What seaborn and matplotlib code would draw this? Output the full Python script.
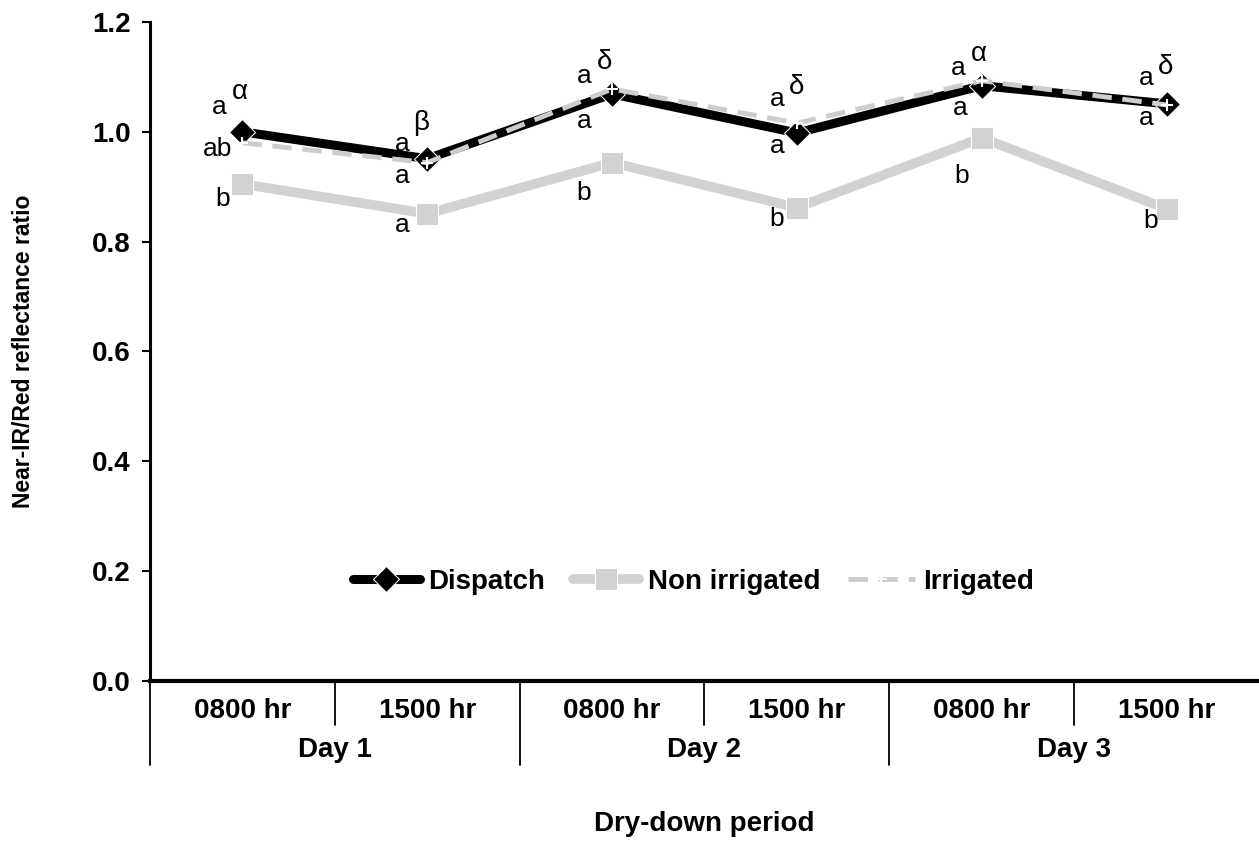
import matplotlib
matplotlib.use("Agg")
import matplotlib.pyplot as plt
import numpy as np
import pandas as pd
import seaborn as sns

# values
hours = ['0800 hr', '1500 hr', '0800 hr', '1500 hr', '0800 hr', '1500 hr']
days = ['Day 1', 'Day 2', 'Day 3']
dispatch = [1.00, 0.951, 1.069, 0.998, 1.084, 1.051]
non_irrigated = [0.905, 0.851, 0.944, 0.862, 0.989, 0.860]
irrigated = [0.980, 0.944, 1.078, 1.016, 1.093, 1.049]

# significance letters: (series, point, text, dx px, dy px)
letters = [
    ('Dispatch', 0, 'a', -23, 25), ('Dispatch', 0, 'α', -3, 40),
    ('Irrigated', 0, 'ab', -25, -6), ('Non irrigated', 0, 'b', -20, -15),
    ('Dispatch', 1, 'a', -25, 15), ('Dispatch', 1, 'β', -6, 36),
    ('Irrigated', 1, 'a', -25, -13), ('Non irrigated', 1, 'a', -25, -11),
    ('Dispatch', 2, 'a', -28, 18), ('Dispatch', 2, 'δ', -8, 32),
    ('Dispatch', 2, 'a', -28, -27), ('Non irrigated', 2, 'b', -28, -30),
    ('Irrigated', 3, 'a', -20, 24), ('Irrigated', 3, 'δ', 0, 36),
    ('Dispatch', 3, 'a', -20, -13), ('Non irrigated', 3, 'b', -20, -11),
    ('Dispatch', 4, 'a', -23, 18), ('Dispatch', 4, 'α', -3, 32),
    ('Dispatch', 4, 'a', -21, -22), ('Non irrigated', 4, 'b', -20, -38),
    ('Dispatch', 5, 'a', -20, 26), ('Dispatch', 5, 'δ', -1, 37),
    ('Dispatch', 5, 'a', -20, -14), ('Non irrigated', 5, 'b', -16, -12),
]

sns.set_style('white')
plt.rcParams['font.family'] = ['Liberation Sans', 'DejaVu Sans']
plt.rcParams['text.color'] = 'black'
plt.rcParams['axes.labelcolor'] = 'black'
plt.rcParams['ytick.color'] = 'black'
plt.rcParams['axes.edgecolor'] = 'black'

pos = np.arange(len(hours))
series = {'Dispatch': dispatch, 'Non irrigated': non_irrigated, 'Irrigated': irrigated}
styles = {
    'Dispatch': dict(color='black', linewidth=6.5, marker='D', markersize=13, zorder=3),
    'Non irrigated': dict(color='#d2d2d2', linewidth=7, marker='s', markersize=16, zorder=2),
    'Irrigated': dict(color='#cdcdcd', linewidth=3.5, marker='+', markersize=8,
                      markeredgewidth=1.5, zorder=4),
}

fig = plt.figure(figsize=(12.59, 8.43), dpi=100)
ax = fig.add_axes([150 / 1259, 1 - 681 / 843, 1109 / 1259, 659 / 843])

lines = {}
for name, vals in series.items():
    df = pd.DataFrame({'pos': pos, 'value': vals})
    sns.lineplot(data=df, x='pos', y='value', ax=ax, label=name, **styles[name])
    lines[name] = ax.get_lines()[-1]
lines['Irrigated'].set_dashes((4, 2.2))

for name, i, txt, dx, dy in letters:
    size = 20 if txt in 'αβδ' else 19
    ax.annotate(txt, (pos[i], series[name][i]), xytext=(dx, dy), textcoords='offset pixels',
                ha='center', va='center', fontsize=size, zorder=5)

ax.set_xlim(-0.5, 5.5)
ax.set_ylim(0, 1.2)
ax.set_yticks(np.arange(0, 1.21, 0.2))
ax.set_yticklabels([f'{v:.1f}' for v in np.arange(0, 1.21, 0.2)], fontsize=20, fontweight='bold')
ax.tick_params(axis='y', length=6, width=1.5, direction='out', left=True, pad=8)
ax.set_xticks([])
for side in ['top', 'right']:
    ax.spines[side].set_visible(False)
ax.spines['left'].set_linewidth(2.2)
ax.spines['bottom'].set_linewidth(3)

# two-level category axis
tr = ax.get_xaxis_transform()
for p, h in zip(pos, hours):
    ax.text(p, -0.046, h, transform=tr, ha='center', va='center', fontsize=20, fontweight='bold')
for k, d in enumerate(days):
    ax.text(2 * k + 0.5, -0.105, d, transform=tr, ha='center', va='center', fontsize=20, fontweight='bold')
for b in [0.5, 2.5, 4.5]:
    ax.plot([b, b], [0, -0.067], transform=tr, color='black', lw=1.3, clip_on=False)
for b in [-0.5, 1.5, 3.5]:
    ax.plot([b, b], [0, -0.127], transform=tr, color='black', lw=1.3, clip_on=False)

ax.set_xlabel('Dry-down period', fontsize=20, fontweight='bold')
ax.xaxis.set_label_coords(0.5, -0.198)
ax.set_ylabel('Near-IR/Red reflectance ratio', fontsize=16.5, fontweight='bold')
ax.yaxis.set_label_coords(-0.104, 0.5)

handles = [lines[n] for n in ['Dispatch', 'Non irrigated', 'Irrigated']]
leg = ax.legend(handles, ['Dispatch', 'Non irrigated', 'Irrigated'], loc='center',
                bbox_to_anchor=(0.49, 0.15), ncol=3, frameon=False, handlelength=2.4,
                handletextpad=0.3, columnspacing=1.0, prop={'size': 20, 'weight': 'bold'})

fig.savefig('out.png', dpi=100)
